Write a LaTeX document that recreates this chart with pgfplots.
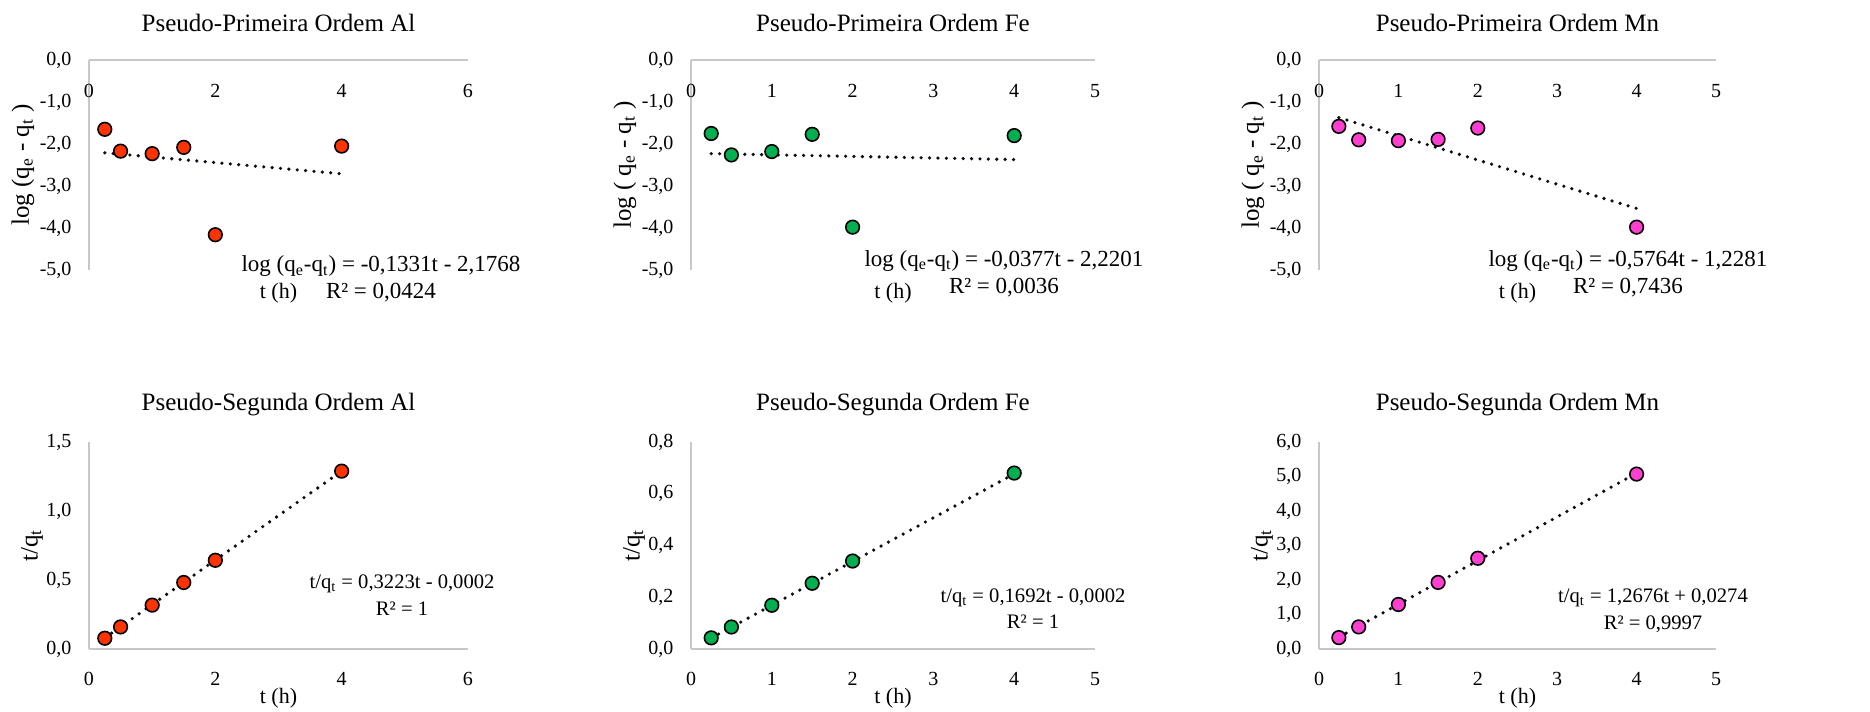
\documentclass[border=0pt]{standalone}
\usepackage{fontspec}
\setmainfont{Liberation Serif}
\usepackage{pgfplots}
\pgfplotsset{compat=1.18}

\definecolor{alc}{HTML}{FF3300}
\definecolor{fec}{HTML}{00B050}
\definecolor{mnc}{HTML}{FF3FCF}
\definecolor{axgray}{HTML}{C8C8C8}
\definecolor{trendc}{HTML}{0D0D1A}

\pgfplotsset{
  kin/.style={
    scale only axis, clip=false,
    axis line style={draw=axgray, line width=0.9pt, -},
    major tick length=0pt, tick style={draw=none},
    /pgf/number format/assume math mode=true,
    tick label style={font=\fontsize{10}{12}\selectfont},
    yticklabel style={/pgf/number format/fixed, /pgf/number format/fixed zerofill,
      /pgf/number format/precision=1, /pgf/number format/use comma, xshift=-5.25pt},
    every axis title/.style={at={([yshift=18.5pt]axis description cs:0.5,1)}, anchor=center,
      font=\fontsize{12.5}{14}\selectfont},
    xlabel={t (h)},
  },
  kintop/.style={kin,
    axis x line*=top, axis y line*=left,
    ymin=-5, ymax=0, ytick={-5,-4,-3,-2,-1,0},
    xticklabel pos=upper,
    x tick label style={anchor=north, yshift=-8.5pt},
    every axis x label/.style={at={([yshift=-11.5pt]axis description cs:0.5,0)}, anchor=center,
      font=\fontsize{11}{12}\selectfont},
    every axis y label/.style={at={([xshift=-33pt]axis description cs:0,0.5)}, anchor=center,
      rotate=90, font=\fontsize{12.5}{14}\selectfont},
  },
  kinbot/.style={kin,
    axis x line*=bottom, axis y line*=left,
    ymin=0,
    x tick label style={yshift=-8pt},
    ylabel={t/q\textsubscript{t}},
    every axis x label/.style={at={([yshift=-24.5pt]axis description cs:0.5,0)}, anchor=center,
      font=\fontsize{11}{12}\selectfont},
    every axis y label/.style={at={([xshift=-28.5pt]axis description cs:0,0.5)}, anchor=center,
      rotate=90, font=\fontsize{12.5}{14}\selectfont},
  },
  pts/.style={only marks, mark=*, mark size=3.4pt,
    mark options={fill=#1, draw=black, line width=0.8pt}},
  trend/.style={no marks, draw=trendc, line width=1.8pt, line cap=round,
    dash pattern=on 0pt off 4.2pt},
}

\newcommand{\eqfont}{\fontsize{11.5}{13.5}\selectfont}
\newcommand{\eqfontb}{\fontsize{10.3}{13.3}\selectfont}

\begin{document}
\begin{tikzpicture}
\useasboundingbox (0pt,0pt) rectangle (935pt,-356pt);

% ---------- pseudo-primeira ordem ----------
\begin{axis}[kintop, at={(44.5pt,-30pt)}, anchor=north west,
  width=189.5pt, height=105pt,
  xmin=0, xmax=6, xtick={0,2,4,6},
  title={Pseudo-Primeira Ordem Al},
  ylabel={log (q\textsubscript{e} - q\textsubscript{t} )}]
\addplot[pts=alc] coordinates {(0.25,-1.65) (0.5,-2.17) (1,-2.23) (1.5,-2.08) (2,-4.16) (4,-2.05)};
\addplot[trend] coordinates {(0.25,-2.2101) (4,-2.7092)};
\end{axis}

\begin{axis}[kintop, at={(345.5pt,-30pt)}, anchor=north west,
  width=202pt, height=105pt,
  xmin=0, xmax=5, xtick={0,1,2,3,4,5},
  title={Pseudo-Primeira Ordem Fe},
  ylabel={log ( q\textsubscript{e} - q\textsubscript{t} )}]
\addplot[pts=fec] coordinates {(0.25,-1.75) (0.5,-2.26) (1,-2.18) (1.5,-1.77) (2,-3.98) (4,-1.80)};
\addplot[trend] coordinates {(0.25,-2.2295) (4,-2.3709)};
\end{axis}

\begin{axis}[kintop, at={(659.5pt,-30pt)}, anchor=north west,
  width=198.5pt, height=105pt,
  xmin=0, xmax=5, xtick={0,1,2,3,4,5},
  title={Pseudo-Primeira Ordem Mn},
  ylabel={log ( q\textsubscript{e} - q\textsubscript{t} )}]
\addplot[pts=mnc] coordinates {(0.25,-1.58) (0.5,-1.90) (1,-1.92) (1.5,-1.89) (2,-1.62) (4,-3.98)};
\addplot[trend] coordinates {(0.25,-1.3722) (4,-3.5337)};
\end{axis}

% ---------- pseudo-segunda ordem ----------
\begin{axis}[kinbot, at={(44.5pt,-221pt)}, anchor=north west,
  width=189.5pt, height=103.5pt,
  xmin=0, xmax=6, xtick={0,2,4,6},
  ymax=1.5, ytick={0,0.5,1,1.5},
  title={Pseudo-Segunda Ordem Al}]
\addplot[pts=alc] coordinates {(0.25,0.078) (0.5,0.160) (1,0.318) (1.5,0.482) (2,0.643) (4,1.289)};
\addplot[trend] coordinates {(0.25,0.0804) (4,1.2890)};
\end{axis}

\begin{axis}[kinbot, at={(345.5pt,-221pt)}, anchor=north west,
  width=202pt, height=103.5pt,
  xmin=0, xmax=5, xtick={0,1,2,3,4,5},
  ymax=0.8, ytick={0,0.2,0.4,0.6,0.8},
  title={Pseudo-Segunda Ordem Fe}]
\addplot[pts=fec] coordinates {(0.25,0.043) (0.5,0.085) (1,0.169) (1.5,0.254) (2,0.340) (4,0.680)};
\addplot[trend] coordinates {(0.25,0.0421) (4,0.6766)};
\end{axis}

\begin{axis}[kinbot, at={(659.5pt,-221pt)}, anchor=north west,
  width=198.5pt, height=103.5pt,
  xmin=0, xmax=5, xtick={0,1,2,3,4,5},
  ymax=6, ytick={0,1,2,3,4,5,6},
  title={Pseudo-Segunda Ordem Mn}]
\addplot[pts=mnc] coordinates {(0.25,0.33) (0.5,0.64) (1,1.29) (1.5,1.93) (2,2.63) (4,5.07)};
\addplot[trend] coordinates {(0.25,0.3443) (4,5.0978)};
\end{axis}

% trendline equations
\node[align=center, font=\eqfont] at (190.5pt,-139.5pt)
  {log (q\textsubscript{e}-q\textsubscript{t}) = -0,1331t - 2,1768\\R² = 0,0424};
\node[align=center, font=\eqfont] at (502pt,-136.75pt)
  {log (q\textsubscript{e}-q\textsubscript{t}) = -0,0377t - 2,2201\\R² = 0,0036};
\node[align=center, font=\eqfont] at (814pt,-136.75pt)
  {log (q\textsubscript{e}-q\textsubscript{t}) = -0,5764t - 1,2281\\R² = 0,7436};
\node[align=center, font=\eqfontb] at (201pt,-297.5pt)
  {t/q\textsubscript{t} = 0,3223t - 0,0002\\R² = 1};
\node[align=center, font=\eqfontb] at (516.5pt,-304.25pt)
  {t/q\textsubscript{t} = 0,1692t - 0,0002\\R² = 1};
\node[align=center, font=\eqfontb] at (826.5pt,-305.5pt)
  {t/q\textsubscript{t} = 1,2676t + 0,0274\\R² = 0,9997};
\end{tikzpicture}
\end{document}
